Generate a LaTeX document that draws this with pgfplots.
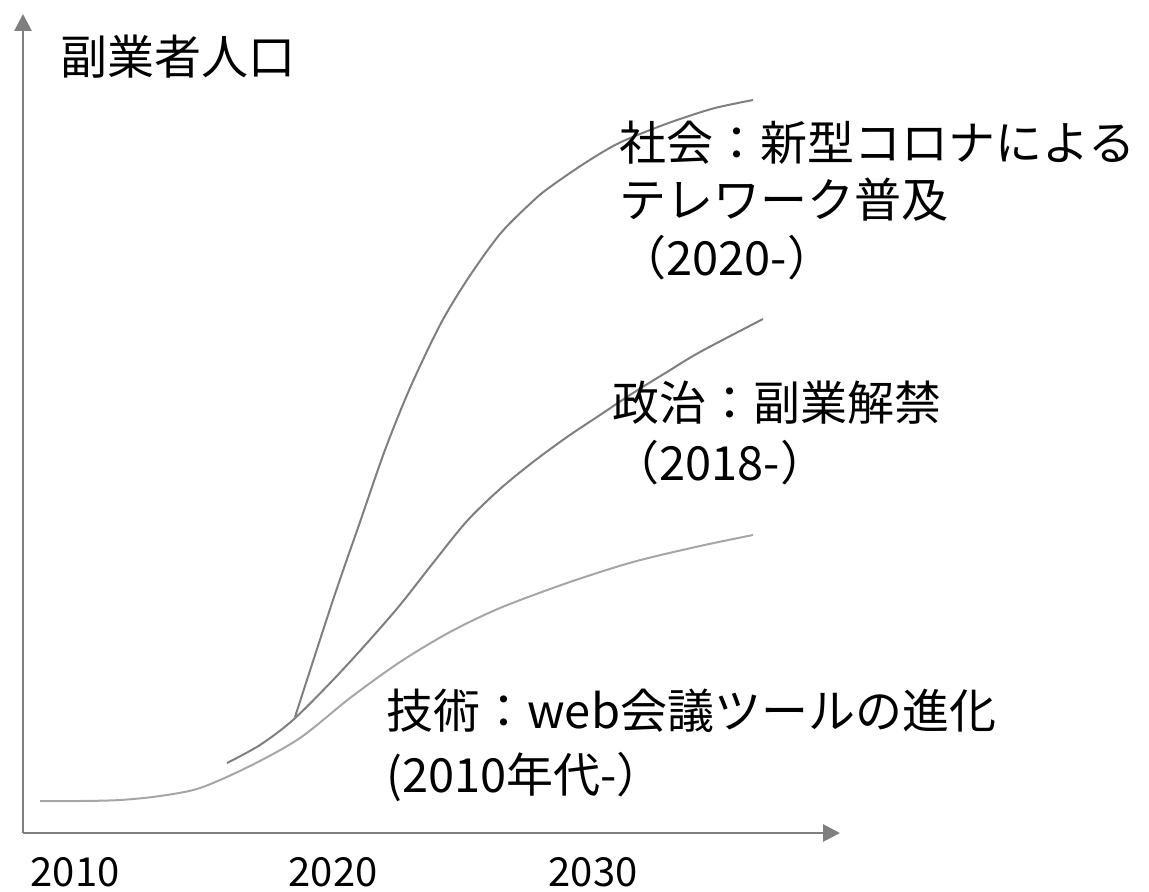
\documentclass[border=0pt]{standalone}
\usepackage{fontspec}
\setmainfont{Noto Sans CJK JP}
\usepackage{pgfplots}
\pgfplotsset{compat=1.18}
\usetikzlibrary{arrows.meta}
\definecolor{axgray}{HTML}{7F7F7F}
\definecolor{dk}{HTML}{7F7F7F}
\definecolor{lt}{HTML}{A6A6A6}
\begin{document}
\begin{tikzpicture}
\begin{axis}[
  scale only axis, width=408.5pt, height=409.5pt,
  xmin=23, xmax=840, ymin=58, ymax=877,
  axis x line=bottom, axis y line=left,
  axis line style={draw=axgray, line width=1.4pt, -{Triangle[length=8.5pt,width=8.5pt]}},
  xtick={75,333,593}, xticklabels={2010,2020,2030},
  ytick=\empty,
  major tick length=0pt,
  xticklabel style={font=\fontsize{20}{24}\selectfont, anchor=north, inner sep=0pt, yshift=-12pt},
  clip=false,
]
% technology (light)
\addplot[smooth, color=lt, line width=1pt] coordinates {
(40,90) (80,90) (120,91) (160,95) (200,103) (250,125) (300,153) (350,193) (400,229) (450,259) (500,283) (567,308) (633,329) (700,345) (753,356)};
% politics
\addplot[smooth, color=dk, line width=1pt] coordinates {
(227,128) (260,146) (293,171) (333,211) (367,248) (400,286) (433,328) (467,370) (500,402) (533,429) (567,454) (600,476) (633,498) (667,519) (700,539) (763,572)};
% society
\addplot[smooth, color=dk, line width=1pt] coordinates {
(295,174) (333,291) (360,369) (385,441) (410,503) (440,566) (467,611) (500,657) (533,690) (550,704) (585,728) (617,747) (650,761) (680,772) (715,783) (753,791)};

\tikzset{lab/.style={anchor=west, inner sep=0pt, font=\fontsize{23.5}{28}\selectfont}}
\node[lab] at (axis cs:60,834) {副業者人口};
\node[lab] at (axis cs:619,748) {社会：新型コロナによる};
\node[lab] at (axis cs:619,691) {テレワーク普及};
\node[lab] at (axis cs:619,633) {（2020-）};
\node[lab] at (axis cs:612,488) {政治：副業解禁};
\node[lab] at (axis cs:612,428) {（2018-）};
\node[lab] at (axis cs:386,180) {技術：web会議ツールの進化};
\node[lab] at (axis cs:386,114) {(2010年代-）};

\coordinate (ll) at (axis cs:0,0);
\coordinate (ur) at (axis cs:1149,891);
\end{axis}
\pgfresetboundingbox
\path (ll) rectangle (ur);
\end{tikzpicture}
\end{document}
